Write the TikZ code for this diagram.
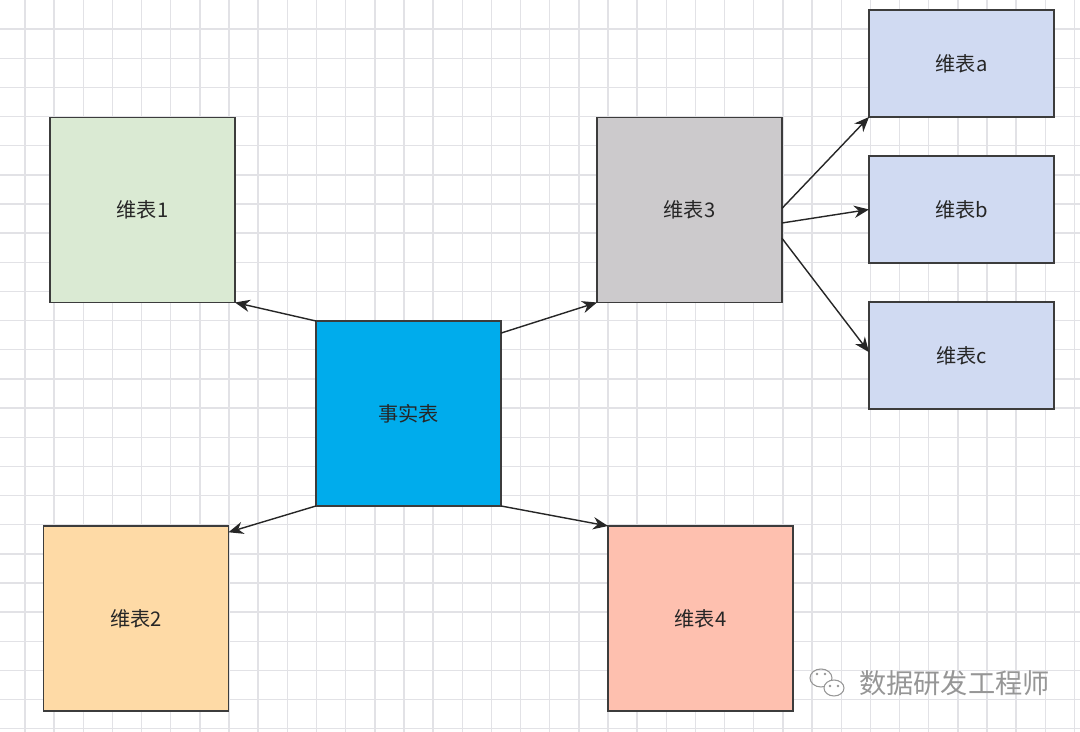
\documentclass[tikz,border=0pt]{standalone}
\usepackage{fontspec}
\setmainfont{Noto Sans CJK SC}
\usetikzlibrary{positioning, arrows.meta}

\definecolor{gridgray}{RGB}{226,226,230}
\definecolor{edgegray}{RGB}{60,60,60}
\definecolor{factblue}{RGB}{0,172,236}
\definecolor{dimgreen}{RGB}{218,234,211}
\definecolor{dimorange}{RGB}{254,218,166}
\definecolor{dimgray}{RGB}{204,202,204}
\definecolor{dimsalmon}{RGB}{254,192,175}
\definecolor{dimlilac}{RGB}{208,218,242}
\definecolor{markgray}{RGB}{150,150,150}

\begin{document}
\begin{tikzpicture}[x=0.02cm, y=-0.02cm,
    table/.style={draw=edgegray, line width=0.85pt, outer sep=0pt, inner sep=0pt,
        minimum width=3.7cm, minimum height=3.7cm, text=black!85,
        font=\fontsize{11.5}{13}\selectfont},
    small table/.style={table, minimum height=2.14cm},
    link/.style={-{Stealth[length=8.5pt, width=7pt]}, line width=0.8pt, black!85}]

    % canvas and grid
    \useasboundingbox (0,0) rectangle (1080,732);
    \fill[white] (0,0) rectangle (1080,732);
    \foreach \k in {0,...,36} {
        \draw[gridgray, line width=0.8pt] ({25+29.15*\k},0) -- ({25+29.15*\k},732);
    }
    \foreach \k in {1,...,25} {
        \draw[gridgray, line width=0.8pt] (0,{29.15*\k}) -- (1080,{29.15*\k});
    }

    % fact table in the middle
    \node[table, fill=factblue] (fact) at (408.5,413.5) {事实表};

    % dimension tables
    \node[table, fill=dimgreen] (dim1) at (142.5,210) {维表1};
    \node[table, fill=dimorange] (dim2) at (136,618.5) {维表2};
    \node[table, fill=dimgray] (dim3) at (689.5,210) {维表3};
    \node[table, fill=dimsalmon] (dim4) at (700.5,618.5) {维表4};

    % sub-dimensions of dim3
    \node[small table, fill=dimlilac] (dima) at (961.5,63.5) {维表a};
    \node[small table, fill=dimlilac, below=0.78cm of dima] (dimb) {维表b};
    \node[small table, fill=dimlilac, below=0.78cm of dimb] (dimc) {维表c};

    % links from fact table
    \draw[link] (fact.north west) -- (dim1.south east);
    \draw[link] (fact.41) -- (dim3.south west);
    \draw[link] (fact.south west) -- (dim2.43);
    \draw[link] (fact.south east) -- (dim4.north west);

    % links from dim3
    \draw[link] (dim3.1) -- (dima.south west);
    \draw[link] (dim3.-8) -- (dimb.west);
    \draw[link] (dim3.-17) -- (dimc.178);

    % watermark
    \node[text=markgray, font=\fontsize{15.5}{17}\selectfont, anchor=west] (mark) at (853,683) {数据研发工程师};
    \draw[markgray, line width=0.6pt] (821,678) ellipse (11 and 9);
    \draw[markgray, line width=0.6pt, fill=white] (834,688) ellipse (10 and 8);
    \foreach \p in {(817,674),(825,674),(830,686),(838,686)} {
        \fill[markgray] \p circle (1.3);
    }

\end{tikzpicture}
\end{document}
